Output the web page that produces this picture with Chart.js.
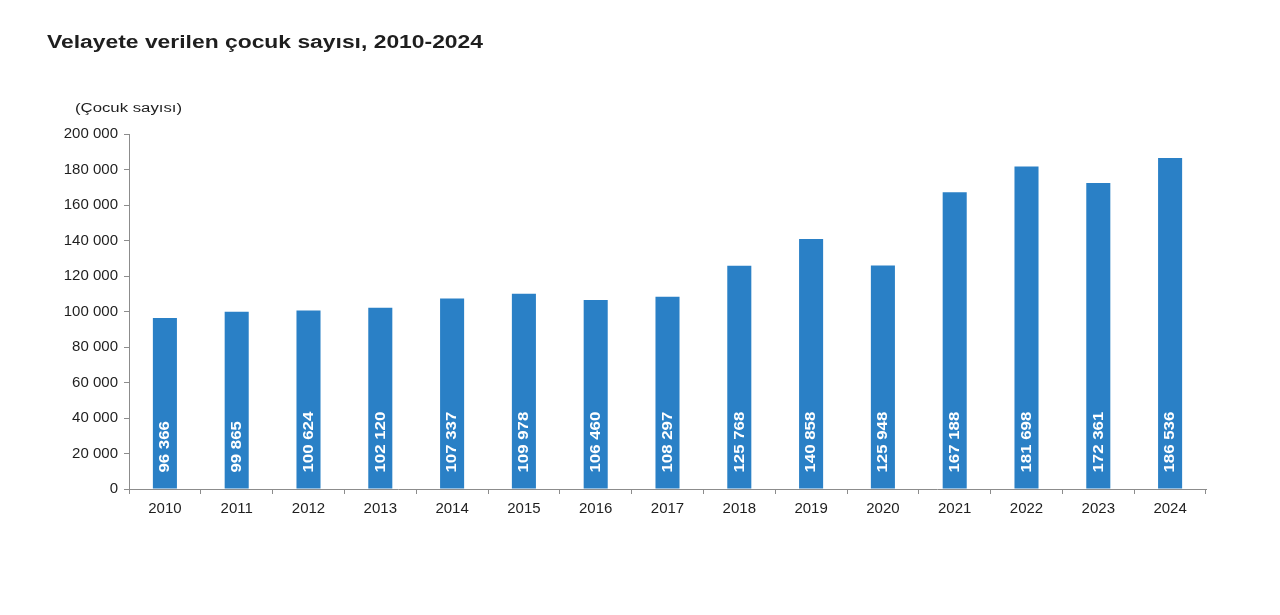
<!DOCTYPE html>
<html>
<head>
<meta charset="utf-8">
<script src="https://cdn.jsdelivr.net/npm/chart.js@4"></script>
<style>
  html, body { margin: 0; padding: 0; background: #fff; }
  #wrap { width: 1280px; height: 615px; position: relative; }
</style>
</head>
<body>
<div id="wrap"><canvas id="chartPlaceholder" width="1280" height="615"></canvas></div>
<script>
const YEARS = ["2010", "2011", "2012", "2013", "2014", "2015", "2016", "2017",
  "2018", "2019", "2020", "2021", "2022", "2023", "2024"];
const CHILDREN = [96366, 99865, 100624, 102120, 107337, 109978, 106460, 108297,
  125768, 140858, 125948, 167188, 181698, 172361, 186536];
const TITLE = "Velayete verilen çocuk sayısı, 2010-2024";
const UNIT = "(Çocuk sayısı)";

const BAR_COLOR = "#2a80c6";
const AXIS_COLOR = "#8c8c8c";
const TEXT_COLOR = "#1e1e1e";
const FONT = "'Liberation Sans', Arial, sans-serif";

function formatNumber(v) {
  return v.toString().replace(/\B(?=(\d{3})+(?!\d))/g, " ");
}

// draws a string squeezed/stretched to a given width (source image is wide)
function drawWideText(ctx, text, x, y, font, width) {
  ctx.save();
  ctx.font = font;
  const w = ctx.measureText(text).width;
  ctx.translate(x, y);
  ctx.scale(width / w, 1);
  ctx.fillStyle = TEXT_COLOR;
  ctx.textAlign = "left";
  ctx.textBaseline = "alphabetic";
  ctx.fillText(text, 0, 0);
  ctx.restore();
}

const headerPlugin = {
  id: "header",
  afterDraw(chart) {
    const ctx = chart.ctx;
    drawWideText(ctx, TITLE, 47, 48, "bold 18px " + FONT, 436);
    drawWideText(ctx, UNIT, 75, 112, "12px " + FONT, 107);
  },
};

const barLabelPlugin = {
  id: "barLabels",
  afterDatasetsDraw(chart) {
    const ctx = chart.ctx;
    const meta = chart.getDatasetMeta(0);
    ctx.save();
    ctx.font = "bold 14px " + FONT;
    ctx.fillStyle = "#ffffff";
    ctx.textAlign = "left";
    ctx.textBaseline = "middle";
    meta.data.forEach((bar, i) => {
      ctx.save();
      ctx.translate(bar.x + 0.5, bar.base - 16);
      ctx.rotate(-Math.PI / 2);
      ctx.scale(1.2, 1);
      ctx.fillText(formatNumber(CHILDREN[i]), 0, 0);
      ctx.restore();
    });
    ctx.restore();
  },
};

const ctx = document.getElementById("chartPlaceholder").getContext("2d");
new Chart(ctx, {
  type: "bar",
  data: {
    labels: YEARS,
    datasets: [{
      label: "Çocuk sayısı",
      data: CHILDREN,
      backgroundColor: BAR_COLOR,
      borderWidth: 0,
      barPercentage: 0.335,
      categoryPercentage: 1,
    }],
  },
  options: {
    responsive: false,
    animation: false,
    layout: {
      padding: { top: 134, left: 0, right: 74, bottom: 96 },
    },
    plugins: {
      legend: { display: false },
      tooltip: { enabled: false },
      title: { display: false },
    },
    scales: {
      x: {
        afterFit: (s) => { s.height = 30; },
        grid: {
          offset: true,
          drawOnChartArea: false,
          drawTicks: true,
          tickLength: 5,
          color: AXIS_COLOR,
        },
        border: { color: AXIS_COLOR, width: 1 },
        ticks: {
          color: TEXT_COLOR,
          padding: 6,
          maxRotation: 0,
          font: { family: FONT, size: 15 },
        },
      },
      y: {
        min: 0,
        max: 200000,
        afterFit: (s) => { s.width = 129; },
        grid: {
          drawOnChartArea: false,
          drawTicks: true,
          tickLength: 5,
          color: AXIS_COLOR,
        },
        border: { color: AXIS_COLOR, width: 1 },
        ticks: {
          stepSize: 20000,
          color: TEXT_COLOR,
          padding: 6,
          font: { family: FONT, size: 15 },
          callback: (v) => formatNumber(v),
        },
      },
    },
  },
  plugins: [barLabelPlugin, headerPlugin],
});
</script>
</body>
</html>
